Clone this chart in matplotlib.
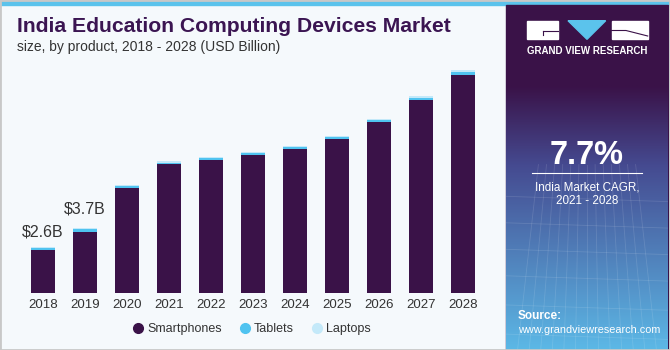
import numpy as np
import matplotlib
matplotlib.use('Agg')
import matplotlib.pyplot as plt
from matplotlib.patches import Rectangle, Polygon
from matplotlib.lines import Line2D

years = ['2018', '2019', '2020', '2021', '2022', '2023', '2024', '2025', '2026', '2027', '2028']
smartphones = [2.46, 3.46, 5.98, 7.31, 7.57, 7.86, 8.16, 8.77, 9.72, 10.98, 12.40]
tablets = [0.08, 0.15, 0.08, 0.10, 0.09, 0.09, 0.11, 0.10, 0.09, 0.12, 0.17]
laptops = [0.06, 0.09, 0.08, 0.07, 0.08, 0.06, 0.08, 0.07, 0.06, 0.09, 0.12]
labels = {0: '$2.6B', 1: '$3.7B'}

c_phone = '#3a1248'
c_tab = '#4fc3f0'
c_lap = '#c4e9f9'
bg = '#f5f9fc'
purple = '#3a1248'

W, H = 670, 350
def fx(x):
    return x / W
def fy(y):
    return 1 - y / H

plt.rcParams['font.family'] = ['Liberation Sans', 'DejaVu Sans']
fig = plt.figure(figsize=(6.7, 3.5), dpi=100)
fig.patch.set_facecolor(bg)

# top stripe and right panel
fig.patches.append(Rectangle((0, fy(5)), 1, 5 / H, transform=fig.transFigure,
                             color='#5bc3ec', zorder=0))
fig.patches.append(Rectangle((fx(506), 0), fx(668) - fx(506), fy(5), transform=fig.transFigure,
                             color=purple, zorder=0))
# bottom gradient of the panel
gax = fig.add_axes([fx(506), 0, fx(668) - fx(506), 1 - fy(265)], zorder=1)
t = np.linspace(0, 1, 100)[:, None]
top = np.array([0x3a, 0x12, 0x48]) / 255
mid = np.array([0x45, 0x4a, 0x90]) / 255
bot = np.array([0x5c, 0xb8, 0xe6]) / 255
a = np.clip(t / 0.3, 0, 1)
b = np.clip((t - 0.3) / 0.7, 0, 1)
grad = np.where(t < 0.3, top + (mid - top) * a, mid + (bot - mid) * b)
gax.imshow(grad.reshape(100, 1, 3), aspect='auto', extent=[0, 1, 1, 0])
for k in range(1, 14):
    gax.plot([k / 14 - 0.3 * (k / 14 - 0.5), k / 14], [0.3, 1], color='white', alpha=0.12, lw=0.6)
for yy in [0.42, 0.52, 0.62, 0.72, 0.83, 0.94]:
    gax.plot([0, 1], [yy, yy + 0.02], color='white', alpha=0.12, lw=0.6)
gax.set_xlim(0, 1)
gax.set_ylim(1, 0)
gax.axis('off')

# border
fig.patches.append(Rectangle((0, 0), 1, 1, transform=fig.transFigure, fill=False,
                             edgecolor='#c8c8c8', lw=2, zorder=5))

# main chart
ax = fig.add_axes([fx(17.8), fy(293), fx(470.4), fy(46.6) - fy(293)])
ax.set_facecolor('none')
x = np.arange(len(years))
w = 0.57
ax.bar(x, smartphones, w, color=c_phone, label='Smartphones')
b1 = np.array(smartphones)
ax.bar(x, tablets, w, bottom=b1, color=c_tab, label='Tablets')
b2 = b1 + np.array(tablets)
ax.bar(x, laptops, w, bottom=b2, color=c_lap, label='Laptops')
tot = b2 + np.array(laptops)
for i, s in labels.items():
    ax.annotate(s, (x[i], tot[i]), xytext=(0, 5.5 if i == 0 else 8.5), textcoords='offset points',
                ha='center', va='bottom', fontsize=11.5, color='#333333')
ax.set_xlim(-0.6, 10.6)
ax.set_ylim(0, 14)
ax.set_xticks(x)
ax.set_xticklabels(years, fontsize=9.5, color='#333333')
ax.tick_params(axis='x', length=0, pad=4.5)
ax.set_yticks([])
for sp in ax.spines.values():
    sp.set_visible(False)

handles = [Line2D([], [], marker='o', ls='', color=c, markersize=7) for c in (c_phone, c_tab, c_lap)]
fig.legend(handles, ['Smartphones', 'Tablets', 'Laptops'], loc='center',
           bbox_to_anchor=(fx(252), fy(329)), ncol=3, frameon=False, fontsize=9,
           handlelength=0.8, handletextpad=0.35, columnspacing=1.4, labelcolor='#333333')

# titles
fig.text(fx(17), fy(27), 'India Education Computing Devices Market', fontsize=15.2,
         fontweight='bold', color='#3b1552', va='center')
fig.text(fx(17), fy(47), 'size, by product, 2018 - 2028 (USD Billion)', fontsize=10,
         color='#333333', va='center')

# logo
fig.patches.append(Rectangle((fx(527), fy(39.3)), fx(30.7), 18.6 / H, transform=fig.transFigure,
                             color='white', zorder=3))
fig.patches.append(Rectangle((fx(611.7), fy(39.3)), fx(36), 18.6 / H, transform=fig.transFigure,
                             color='white', zorder=3))
fig.patches.append(Polygon([(fx(568), fy(20.7)), (fx(605.7), fy(20.7)), (fx(587), fy(39.3))],
                           transform=fig.transFigure, color='#5bc3ec', zorder=3))
fig.lines.append(Line2D([fx(543), fx(557.7)], [fy(31), fy(31)], transform=fig.transFigure,
                        color=purple, lw=0.8, zorder=4))
fig.lines.append(Line2D([fx(543), fx(543)], [fy(31), fy(35)], transform=fig.transFigure,
                        color=purple, lw=0.8, zorder=4))
fig.lines.append(Line2D([fx(611.7), fx(626), fx(647.7)], [fy(30.5), fy(30.5), fy(36)],
                        transform=fig.transFigure, color=purple, lw=0.8, zorder=4))
fig.text(fx(587), fy(51.5), 'GRAND VIEW RESEARCH', fontsize=7.0, fontweight='bold',
         color='white', ha='center', va='center', zorder=4)

fig.text(fx(587), fy(155), '7.7%', fontsize=23.5, fontweight='bold', color='white',
         ha='center', va='center', zorder=4)
fig.lines.append(Line2D([fx(532), fx(642)], [fy(173), fy(173)], transform=fig.transFigure,
                        color='white', lw=0.8, zorder=4))
fig.text(fx(587), fy(187), 'India Market CAGR,', fontsize=8.4, color='white',
         ha='center', va='center', zorder=4)
fig.text(fx(587), fy(201), '2021 - 2028', fontsize=8.4, color='white',
         ha='center', va='center', zorder=4)
fig.text(fx(518), fy(316), 'Source:', fontsize=8.5, fontweight='bold', color='white',
         va='center', zorder=4)
fig.text(fx(518), fy(330), 'www.grandviewresearch.com', fontsize=7.8, color='white',
         va='center', zorder=4)

fig.savefig('out.png', dpi=100, facecolor=fig.get_facecolor())
